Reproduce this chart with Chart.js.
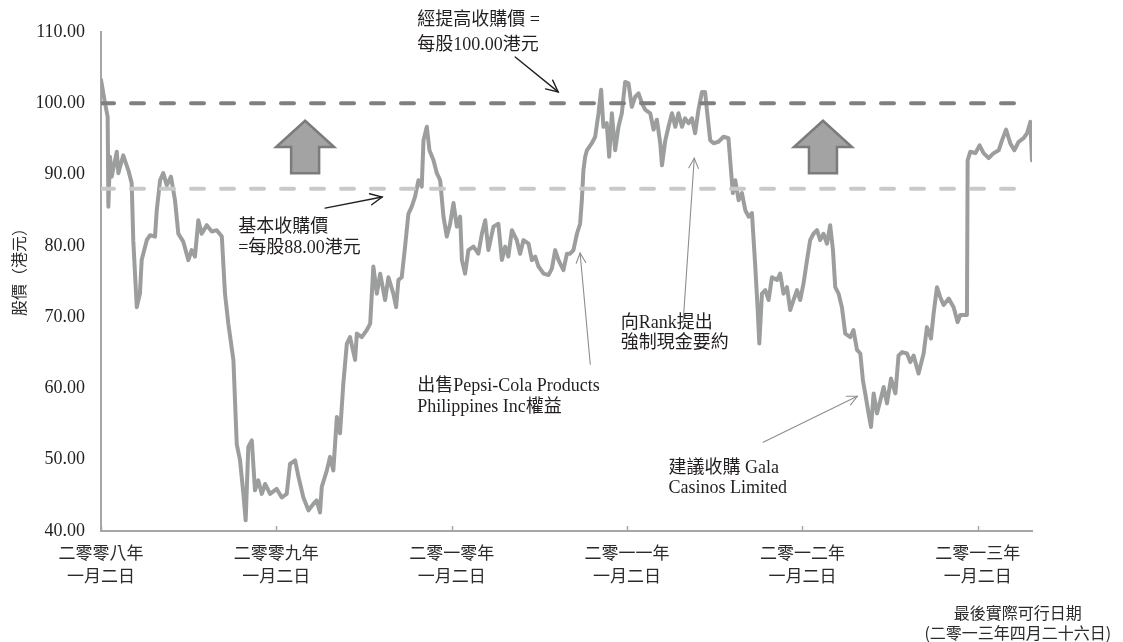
<!DOCTYPE html>
<html>
<head>
<meta charset="utf-8">
<script src="https://cdn.jsdelivr.net/npm/chart.js@4.4.1/dist/chart.umd.min.js"></script>
<style>
html,body{margin:0;padding:0;background:#fff;}
#wrap{width:1123px;height:642px;position:relative;}
</style>
</head>
<body>
<div id="wrap"><canvas id="c" width="1123" height="642"></canvas></div>
<script>
// ---- data (x = years since 2 Jan 2008) ----
const yearOffsets = [
0.000,0.023,0.038,0.042,0.051,0.061,0.090,0.099,0.127,0.156,0.175,0.184,0.204,0.222,0.232,0.261,0.280,0.308,0.318,0.337,
0.355,0.375,0.399,0.422,0.441,0.469,0.498,0.517,0.536,0.555,0.574,0.603,0.632,0.660,0.689,0.707,0.726,0.755,0.774,0.793,
0.812,0.825,0.840,0.860,0.878,0.897,0.917,0.936,0.964,1.002,1.031,1.059,1.078,1.107,1.126,1.154,1.183,1.211,1.230,1.249,
1.259,1.288,1.306,1.325,1.345,1.363,1.382,1.402,1.420,1.449,1.459,1.487,1.516,1.535,1.553,1.573,1.592,1.620,1.639,1.667,
1.683,1.696,1.715,1.734,1.753,1.772,1.791,1.810,1.829,1.839,1.858,1.873,1.896,1.915,1.934,1.953,1.972,1.991,2.010,2.029,
2.048,2.058,2.076,2.095,2.124,2.152,2.172,2.191,2.209,2.238,2.266,2.286,2.305,2.323,2.343,2.371,2.390,2.409,2.438,2.457,
2.476,2.495,2.524,2.552,2.571,2.590,2.609,2.637,2.657,2.675,2.694,2.714,2.732,2.742,2.751,2.761,2.771,2.799,2.818,2.837,
2.852,2.865,2.884,2.898,2.913,2.932,2.951,2.970,2.989,3.008,3.027,3.046,3.065,3.085,3.103,3.132,3.151,3.170,3.189,3.199,
3.218,3.236,3.256,3.275,3.293,3.313,3.331,3.350,3.370,3.388,3.407,3.427,3.445,3.455,3.474,3.493,3.521,3.550,3.578,3.588,
3.603,3.617,3.636,3.655,3.674,3.693,3.712,3.731,3.744,3.754,3.769,3.788,3.807,3.826,3.855,3.873,3.892,3.912,3.930,3.949,
3.969,3.987,4.006,4.026,4.044,4.063,4.083,4.101,4.120,4.140,4.158,4.174,4.187,4.206,4.225,4.244,4.273,4.291,4.311,4.330,
4.345,4.358,4.377,4.391,4.406,4.425,4.444,4.463,4.482,4.505,4.530,4.548,4.568,4.596,4.615,4.634,4.662,4.691,4.710,4.733,
4.748,4.767,4.786,4.805,4.834,4.862,4.885,4.900,4.938,4.942,4.957,4.986,5.010,5.033,5.062,5.090,5.119,5.138,5.161,5.185,
5.208,5.233,5.261,5.281,5.300,5.309
];
const prices = [
103.3,100.0,98.1,85.5,92.5,89.7,93.2,90.2,92.7,90.6,88.8,80.8,71.4,73.3,78.0,80.8,81.5,81.3,85.0,89.2,
90.2,88.5,89.7,86.4,81.7,80.6,78.0,79.4,78.5,83.6,81.7,82.9,82.0,82.2,81.3,73.3,69.1,64.0,52.2,49.9,
45.2,41.5,51.8,52.7,45.7,47.1,45.2,46.6,45.2,45.9,44.7,45.2,49.4,49.9,47.6,44.7,42.9,43.8,44.3,42.6,
46.2,48.5,50.4,48.5,56.0,53.7,60.7,66.3,67.2,64.0,67.7,67.2,68.2,69.1,77.1,73.3,76.1,72.4,75.6,73.3,
71.4,75.2,75.6,79.9,84.5,85.5,86.9,89.2,88.3,94.8,96.7,93.4,92.0,90.2,89.2,84.1,81.3,83.1,86.0,82.7,
84.1,78.0,76.1,79.4,79.9,78.9,81.7,83.6,79.4,82.7,83.1,78.0,79.9,78.5,82.2,80.8,78.9,80.8,80.3,78.0,
78.5,77.1,76.1,75.9,76.8,79.4,78.0,76.6,78.9,78.9,79.4,81.7,83.1,86.4,90.6,92.5,93.4,94.4,95.3,98.6,
101.9,96.7,97.2,92.5,98.6,93.4,96.7,98.6,103.0,102.8,99.5,100.9,101.4,100.0,99.1,98.6,96.3,97.7,94.4,91.3,
94.8,96.7,98.6,96.7,98.6,96.7,97.9,97.2,97.9,95.8,99.1,101.6,101.6,99.1,94.8,94.4,94.6,95.3,95.1,92.0,
87.4,89.2,86.4,87.4,85.0,84.1,84.6,77.1,71.4,66.3,73.3,73.8,72.4,75.6,75.2,76.1,73.3,74.2,71.0,72.4,
73.8,72.4,74.7,78.0,80.8,81.7,82.2,80.8,81.7,80.3,82.9,79.4,74.2,73.3,71.4,67.7,67.2,68.2,65.4,64.9,
61.1,59.3,56.5,54.6,59.3,56.5,58.3,60.2,57.9,61.4,59.3,64.6,65.1,64.9,63.7,64.6,62.1,64.9,68.6,67.0,
70.5,74.2,72.8,71.7,72.6,71.4,69.3,70.3,70.3,92.0,93.2,93.0,94.1,93.0,92.3,93.0,93.4,94.8,96.3,94.4,
93.4,94.6,95.1,95.8,97.4,92.0
];
const offerPrices = [100.00, 88.00];        // raised offer, base offer
const offerLineSpan = [0.000, 5.282];
const tickYears = [0, 1, 2, 3, 4, 5];
const tickLabels = [
  ['二零零八年','一月二日'],
  ['二零零九年','一月二日'],
  ['二零一零年','一月二日'],
  ['二零一一年','一月二日'],
  ['二零一二年','一月二日'],
  ['二零一三年','一月二日']
];
const xMax = 5.309;
const yTicks = [40,50,60,70,80,90,100,110];

const TEXT = '#231f20';
const SERIF = '"Liberation Serif", "Noto Sans CJK TC", serif';
const CJK = '"Noto Sans CJK TC", "Liberation Serif", sans-serif';

const pricePts = yearOffsets.map((t,i)=>({x:t, y:prices[i]}));
const line100 = offerLineSpan.map(t=>({x:t, y:offerPrices[0]}));
const line88 = offerLineSpan.map(t=>({x:t, y:offerPrices[1]}));

function arrowLine(ctx, x1, y1, x2, y2, color, w, head){
  ctx.save();
  ctx.strokeStyle = color; ctx.lineWidth = w; ctx.lineCap='round';
  ctx.beginPath(); ctx.moveTo(x1,y1); ctx.lineTo(x2,y2); ctx.stroke();
  const a = Math.atan2(y2-y1, x2-x1);
  const sp = 0.45;
  ctx.beginPath();
  ctx.moveTo(x2 - head*Math.cos(a-sp), y2 - head*Math.sin(a-sp));
  ctx.lineTo(x2, y2);
  ctx.lineTo(x2 - head*Math.cos(a+sp), y2 - head*Math.sin(a+sp));
  ctx.stroke();
  ctx.restore();
}

// annotations in data coordinates
const texts = [
  {t:1.803, v:111.70, s:'經提高收購價 ='},
  {t:1.803, v:108.19, s:'每股100.00港元'},
  {t:0.782, v:82.63, s:'基本收購價'},
  {t:0.782, v:79.68, s:'=每股88.00港元'},
  {t:1.803, v:60.30, s:'出售Pepsi-Cola Products'},
  {t:1.803, v:57.35, s:'Philippines Inc權益'},
  {t:2.964, v:69.18, s:'向Rank提出'},
  {t:2.964, v:66.29, s:'強制現金要約'},
  {t:3.236, v:48.74, s:'建議收購 Gala'},
  {t:3.236, v:45.93, s:'Casinos Limited'}
];
const arrows = [
  {t1:2.362, v1:106.5, t2:2.607, v2:101.6, c:'#231f20', w:1.4, h:13},
  {t1:1.278, v1:85.3, t2:1.603, v2:86.85, c:'#231f20', w:1.4, h:13},
  {t1:2.790, v1:63.4, t2:2.732, v2:79.0, c:'#8e8e8e', w:1.1, h:11},
  {t1:3.320, v1:69.4, t2:3.383, v2:92.3, c:'#8e8e8e', w:1.1, h:11},
  {t1:3.776, v1:52.45, t2:4.313, v2:58.9, c:'#8e8e8e', w:1.1, h:11}
];
const blockArrows = [ {t:1.164}, {t:4.117} ];

const annotPlugin = {
  id:'annot',
  afterDatasetsDraw(chart){
    const ctx = chart.ctx, xs = chart.scales.x, ys = chart.scales.y;
    const X = t=>xs.getPixelForValue(t), Y = v=>ys.getPixelForValue(v);
    blockArrows.forEach(b=>{
      const cx = X(b.t), apex = Y(97.55), base = Y(93.86), bot = Y(90.2);
      ctx.save();
      ctx.beginPath();
      ctx.moveTo(cx, apex);
      ctx.lineTo(cx+29, base);
      ctx.lineTo(cx+14, base);
      ctx.lineTo(cx+14, bot);
      ctx.lineTo(cx-14, bot);
      ctx.lineTo(cx-14, base);
      ctx.lineTo(cx-29, base);
      ctx.closePath();
      ctx.fillStyle='#a3a3a3'; ctx.fill();
      ctx.strokeStyle='#7b7b7b'; ctx.lineWidth=2.5; ctx.lineJoin='miter'; ctx.stroke();
      ctx.restore();
    });
  },
  afterDraw(chart){
    const ctx = chart.ctx, xs = chart.scales.x, ys = chart.scales.y;
    const X = t=>xs.getPixelForValue(t), Y = v=>ys.getPixelForValue(v);
    ctx.save();
    ctx.strokeStyle='#a6a6a6'; ctx.lineWidth=1.5;
    tickYears.forEach(t=>{
      const px = Math.round(X(t))+0.5;
      ctx.beginPath(); ctx.moveTo(px, ys.bottom); ctx.lineTo(px, ys.bottom-5); ctx.stroke();
    });
    ctx.restore();
    ctx.save();
    ctx.fillStyle = TEXT; ctx.font = '18px '+SERIF; ctx.textBaseline='middle'; ctx.textAlign='left';
    texts.forEach(o=>ctx.fillText(o.s, X(o.t), Y(o.v)));
    ctx.textAlign='center'; ctx.font = '16px '+CJK; ctx.fillStyle='#2b2b2b';
    ctx.fillText('最後實際可行日期', X(5.228), Y(28.5));
    ctx.fillText('(二零一三年四月二十六日)', X(5.228), Y(25.75));
    ctx.translate(19, Y(76.9));
    ctx.rotate(-Math.PI/2);
    ctx.font = '16px '+CJK; ctx.fillStyle='#2b2b2b';
    ctx.fillText('股價（港元）', 0, 0);
    ctx.restore();
    arrows.forEach(a=>arrowLine(ctx, X(a.t1), Y(a.v1), X(a.t2), Y(a.v2), a.c, a.w, a.h));
  }
};

new Chart(document.getElementById('c'), {
  type:'line',
  data:{
    datasets:[
      {data:line100, borderColor:'#7f7f7f', borderWidth:4, borderDash:[13,17], borderCapStyle:'round', pointRadius:0, order:0},
      {data:line88, borderColor:'#c9c9c9', borderWidth:4, borderDash:[13,17], borderCapStyle:'round', pointRadius:0, order:0},
      {data:pricePts, borderColor:'#9c9e9d', borderWidth:4, borderJoinStyle:'round', borderCapStyle:'round', pointRadius:0, tension:0, order:1}
    ]
  },
  options:{
    responsive:false,
    animation:false,
    events:[],
    layout:{padding:{left:0, top:32, right:91, bottom:0}},
    plugins:{legend:{display:false}, tooltip:{enabled:false}},
    scales:{
      x:{
        type:'linear', min:0, max:xMax,
        afterFit(s){ s.height = 111; },
        afterBuildTicks(s){ s.ticks = tickYears.map(v=>({value:v})); },
        grid:{display:false, drawTicks:false},
        border:{display:true, color:'#a6a6a6', width:2},
        ticks:{
          autoSkip:false, maxRotation:0, padding:10,
          color:'#2b2b2b', font:{family:CJK, size:17, lineHeight:1.35},
          callback(v){ const i = tickYears.indexOf(v); return i>=0 ? tickLabels[i] : ''; }
        }
      },
      y:{
        min:40, max:110,
        afterFit(s){ s.width = 101; },
        afterBuildTicks(s){ s.ticks = yTicks.map(v=>({value:v})); },
        grid:{display:false, drawTicks:false},
        border:{display:true, color:'#a6a6a6', width:2},
        ticks:{padding:16, color:TEXT, font:{family:SERIF, size:18}, callback:v=>Number(v).toFixed(2)}
      }
    }
  },
  plugins:[annotPlugin]
});
</script>
</body>
</html>
